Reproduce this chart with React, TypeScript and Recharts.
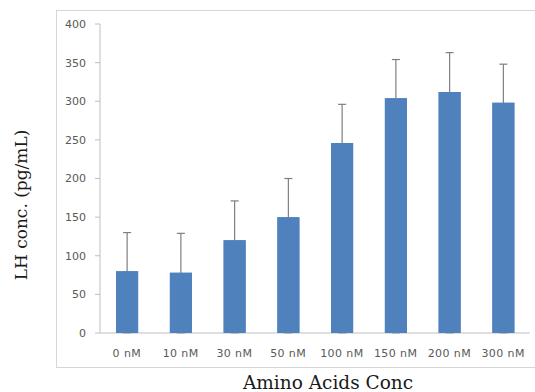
import React from 'react';
import { BarChart, Bar, XAxis, YAxis, ErrorBar } from 'recharts';

const categories = ['0 nM', '10 nM', '30 nM', '50 nM', '100 nM', '150 nM', '200 nM', '300 nM'];
const lhValues = [80, 78, 120, 150, 246, 304, 312, 298];
const upperErrors = [50, 51, 51, 50, 50, 50, 51, 50];
const yTicks = [0, 50, 100, 150, 200, 250, 300, 350, 400];
const boundaryTicks = [0, 1, 2, 3, 4, 5, 6, 7, 8];

const data = categories.map((c, i) => ({
  name: c,
  value: lhValues[i],
  err: [lhValues[i], upperErrors[i]],
}));

const sans = '"DejaVu Sans", "Liberation Sans", sans-serif';
const serif = '"DejaVu Serif", "Liberation Serif", serif';
const W = 535;
const H = 392;
const margin = { top: 24, right: 5, bottom: 0, left: 0 };
const innerMargin = { top: 24, right: 5, bottom: 59, left: 100 };

const XTitle = (props: any) => {
  const vb = props.viewBox || {};
  return (
    <text x={vb.x + vb.width / 2 + 13} y={389} textAnchor="middle" fontFamily={serif} fontSize={18.5} fill="#1a1a1a">
      Amino Acids Conc
    </text>
  );
};

const YTitle = () => (
  <text x={0} y={0} transform="translate(27,205) rotate(-90)" textAnchor="middle" fontFamily={serif} fontSize={17} fill="#1a1a1a">
    LH conc. (pg/mL)
  </text>
);

export default function App() {
  return (
    <div style={{ position: 'absolute', left: 0, top: 0, width: W, height: H, background: '#fff', overflow: 'hidden' }}>
      <div style={{ position: 'absolute', left: 56, top: 10, width: 500, height: 358, border: '1.5px solid #d6d6d6', boxSizing: 'border-box' }} />
      <div style={{ position: 'absolute', left: 0, top: 0 }}>
        <BarChart width={W} height={H} data={data} margin={margin} barCategoryGap="30%">
          <XAxis
            dataKey="name"
            height={59}
            axisLine={{ stroke: '#bfbfbf' }}
            tickLine={false}
            tick={{ fontFamily: sans, fontSize: 11, fill: '#595959', letterSpacing: 0.4 }}
            tickMargin={10}
            interval={0}
            label={<XTitle />}
          />
          <YAxis
            width={100}
            domain={[0, 400]}
            ticks={yTicks}
            axisLine={{ stroke: '#bfbfbf' }}
            tickLine={{ stroke: '#bfbfbf' }}
            tickSize={5}
            tickMargin={9}
            tick={{ fontFamily: sans, fontSize: 11, fill: '#595959' }}
            label={<YTitle />}
          />
          <Bar dataKey="value" fill="#4f81bd" isAnimationActive={false}>
            <ErrorBar dataKey="err" width={4} stroke="#7f7f7f" strokeWidth={1.2} direction="y" />
          </Bar>
        </BarChart>
      </div>
      <div style={{ position: 'absolute', left: 0, top: 0 }}>
        <BarChart width={W} height={H} data={data} margin={innerMargin} barCategoryGap="30%">
          <XAxis dataKey="name" hide />
          <XAxis
            xAxisId="bounds"
            type="number"
            domain={[0, 8]}
            ticks={boundaryTicks}
            height={0}
            axisLine={false}
            tick={false}
            tickLine={{ stroke: '#bfbfbf' }}
            tickSize={4}
            allowDataOverflow
          />
          <YAxis hide domain={[0, 400]} />
          <Bar dataKey="value" fill="#4f81bd" isAnimationActive={false} />
        </BarChart>
      </div>
    </div>
  );
}
